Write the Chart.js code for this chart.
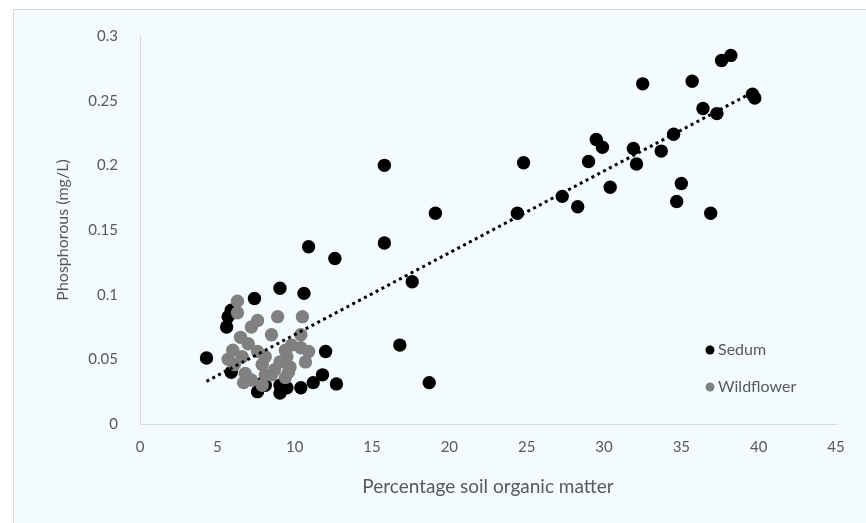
<!DOCTYPE html>
<html>
<head>
<meta charset="utf-8">
<script src="https://cdn.jsdelivr.net/npm/chart.js@4.4.1/dist/chart.umd.min.js"></script>
<style>
html,body{margin:0;padding:0;background:#fff;}
#wrap{width:866px;height:523px;position:relative;}
</style>
</head>
<body>
<div id="wrap"><canvas id="c" width="866" height="523"></canvas></div>
<script>
// ---- data ----
const sedumX = [4.3,5.6,5.7,5.9,5.9,7.4,7.6,7.95,8.1,9.05,9.05,9.05,9.5,10.4,10.6,10.9,11.2,11.8,12.0,12.6,12.7,15.8,15.8,16.8,17.6,18.7,19.1,24.4,24.8,27.3,28.3,29.0,29.5,29.9,30.4,31.9,32.1,32.5,33.7,34.5,34.7,35.0,35.7,36.4,36.9,37.3,37.6,38.2,39.6,39.75];
const sedumY = [0.051,0.075,0.083,0.088,0.040,0.097,0.025,0.032,0.030,0.105,0.030,0.024,0.028,0.028,0.101,0.137,0.032,0.038,0.056,0.128,0.031,0.200,0.140,0.061,0.110,0.032,0.163,0.163,0.202,0.176,0.168,0.203,0.220,0.214,0.183,0.213,0.201,0.263,0.211,0.224,0.172,0.186,0.265,0.244,0.163,0.240,0.281,0.285,0.255,0.252];
const wildX = [6.3,6.3,7.6,7.2,6.5,7.0,6.0,5.7,6.6,6.1,7.6,7.9,6.8,7.2,8.1,6.7,7.9,8.9,10.5,8.5,10.4,9.8,10.4,10.9,9.4,9.5,9.05,10.7,9.7,8.7,9.6,8.5,9.4,8.1];
const wildY = [0.095,0.086,0.080,0.075,0.067,0.062,0.057,0.050,0.052,0.046,0.056,0.046,0.039,0.034,0.038,0.032,0.030,0.083,0.083,0.069,0.069,0.061,0.059,0.056,0.057,0.052,0.048,0.048,0.044,0.042,0.040,0.038,0.036,0.052];
const trendX = [4.3, 39.7];
const trendY = [0.033, 0.257];
const seriesNames = ["Sedum", "Wildflower"];
const xTitle = "Percentage soil organic matter";
const yTitle = "Phosphorous (mg/L)";

const zip = (xs, ys) => xs.map((x, i) => ({x, y: ys[i]}));
const FONT = "Lato, 'Open Sans', sans-serif";
const TXT = "#595959";

const bgPlugin = {
  id: 'bg',
  beforeDraw(chart) {
    const ctx = chart.ctx;
    ctx.save();
    ctx.fillStyle = '#ffffff';
    ctx.fillRect(0, 0, chart.width, chart.height);
    ctx.fillStyle = '#f3fbfe';
    ctx.fillRect(13, 9, chart.width - 13, chart.height - 9);
    ctx.strokeStyle = '#d9d9d9';
    ctx.lineWidth = 1;
    ctx.beginPath();
    ctx.moveTo(13.5, chart.height);
    ctx.lineTo(13.5, 9.5);
    ctx.lineTo(chart.width, 9.5);
    ctx.stroke();
    ctx.restore();
  }
};

const legendPlugin = {
  id: 'customLegend',
  afterDraw(chart) {
    const ctx = chart.ctx;
    const items = [
      {label: seriesNames[0], color: '#000000', y: 350},
      {label: seriesNames[1], color: '#808080', y: 387}
    ];
    ctx.save();
    ctx.font = "16px " + FONT;
    ctx.textBaseline = 'middle';
    items.forEach(it => {
      ctx.fillStyle = it.color;
      ctx.beginPath();
      ctx.arc(710, it.y, 4.5, 0, Math.PI * 2);
      ctx.fill();
      ctx.fillStyle = TXT;
      ctx.fillText(it.label, 718, it.y);
    });
    ctx.restore();
  }
};

new Chart(document.getElementById('c'), {
  type: 'scatter',
  data: {
    datasets: [
      {
        label: 'trend',
        type: 'line',
        data: zip(trendX, trendY),
        borderColor: '#000',
        borderWidth: 3,
        borderDash: [3, 3.6],
        borderCapStyle: 'butt',
        pointRadius: 0,
        fill: false,
        order: -1
      },
      {
        label: seriesNames[1],
        data: zip(wildX, wildY),
        backgroundColor: '#808080',
        borderColor: '#808080',
        pointRadius: 6.7,
        borderWidth: 0,
        order: 0
      },
      {
        label: seriesNames[0],
        data: zip(sedumX, sedumY),
        backgroundColor: '#000000',
        borderColor: '#000000',
        pointRadius: 6.7,
        borderWidth: 0,
        order: 1
      }
    ]
  },
  options: {
    responsive: false,
    animation: false,
    devicePixelRatio: 1,
    layout: {padding: {left: 0, top: 36, right: 30, bottom: 0}},
    plugins: {legend: {display: false}, tooltip: {enabled: false}},
    scales: {
      x: {
        type: 'linear', min: 0, max: 45,
        ticks: {stepSize: 5, color: TXT, font: {family: FONT, size: 15}, padding: 14},
        grid: {display: false, drawTicks: false},
        border: {display: true, color: '#d9d9d9', width: 1},
        title: {display: true, text: xTitle, color: TXT, font: {family: FONT, size: 19}, padding: {top: 0, bottom: 25}},
        afterFit(scale) { scale.height = 99; }
      },
      y: {
        type: 'linear', min: 0, max: 0.3,
        ticks: {stepSize: 0.05, color: TXT, font: {family: FONT, size: 15}, padding: 22,
          callback: v => String(Math.round(v * 100) / 100)},
        grid: {display: false, drawTicks: false},
        border: {display: true, color: '#d9d9d9', width: 1},
        title: {display: true, text: yTitle, color: TXT, font: {family: FONT, size: 16}, padding: {top: 53, bottom: 0}},
        afterFit(scale) { scale.width = 140; }
      }
    }
  },
  plugins: [bgPlugin, legendPlugin]
});
</script>
</body>
</html>
